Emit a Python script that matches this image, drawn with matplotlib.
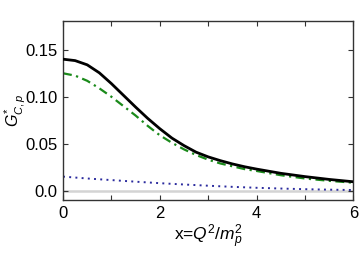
import matplotlib
matplotlib.use('Agg')
import matplotlib.pyplot as plt
from matplotlib.ticker import MultipleLocator

plt.rcParams['font.family'] = ['Liberation Sans', 'DejaVu Sans']
plt.rcParams['mathtext.fontset'] = 'custom'
plt.rcParams['mathtext.rm'] = 'Liberation Sans'
plt.rcParams['mathtext.it'] = 'Liberation Sans:italic'

# values
x = [0, 0.25, 0.5, 0.75, 1.0, 1.25, 1.5, 1.75, 2.0, 2.25, 2.5, 2.75, 3.0,
     3.25, 3.5, 3.75, 4.0, 4.5, 5.0, 5.5, 6.0]
g_total = [0.140, 0.1385, 0.134, 0.1255, 0.114, 0.1015, 0.089, 0.077, 0.066, 0.056,
           0.048, 0.041, 0.036, 0.032, 0.0285, 0.0255, 0.023, 0.0185, 0.015, 0.012, 0.0095]
g_part1 = [0.125, 0.1225, 0.117, 0.109, 0.100, 0.090, 0.080, 0.069, 0.059, 0.051,
           0.044, 0.038, 0.033, 0.029, 0.026, 0.023, 0.021, 0.0165, 0.013, 0.0105, 0.0085]

x2 = [0, 0.5, 1.0, 1.5, 2.0, 2.5, 3.0, 3.5, 4.0, 4.5, 5.0, 5.5, 6.0]
g_part2 = [0.015, 0.013, 0.0113, 0.0096, 0.008, 0.0066, 0.0053, 0.0041, 0.0031,
           0.0023, 0.0016, 0.0011, 0.0007]

fig = plt.figure(figsize=(3.59, 2.54), dpi=100)
ax = fig.add_axes([0.1755, 0.2126, 0.809, 0.706])

ax.axhline(0, color='#d4d4d4', lw=1.8, zorder=1)
ax.plot(x, g_total, color='black', lw=2, zorder=3)
ax.plot(x, g_part1, color='#1a8a1a', lw=1.6, ls=(0, (4, 2, 1, 2)), zorder=2)
ax.plot(x2, g_part2, color='#2b2b9e', lw=1.4, ls=(0, (1, 2.2)), zorder=2)

ax.set_xlim(0, 6)
ax.set_ylim(-0.0099, 0.181)
ax.xaxis.set_major_locator(MultipleLocator(2))
ax.xaxis.set_minor_locator(MultipleLocator(1))
ax.set_yticks([0.0, 0.05, 0.10, 0.15])
ax.set_yticklabels(['0.0', '0.05', '0.10', '0.15'])
ax.tick_params(which='both', direction='in', top=True, right=True, labelsize=12,
               length=3.5, width=0.8, color='#333333', pad=4)

for s in ax.spines.values():
    s.set_color('#333333')
    s.set_linewidth(1.0)

ax.set_xlabel(r'x=$Q^2/m_p^2$', fontsize=12.5)
ax.xaxis.set_label_coords(0.5, -0.125)
ax.set_ylabel(r'$G^{*}_{C,p}$', fontsize=11.5)
ax.yaxis.set_label_coords(-0.122, 0.5)

fig.savefig('out.png', dpi=100)
